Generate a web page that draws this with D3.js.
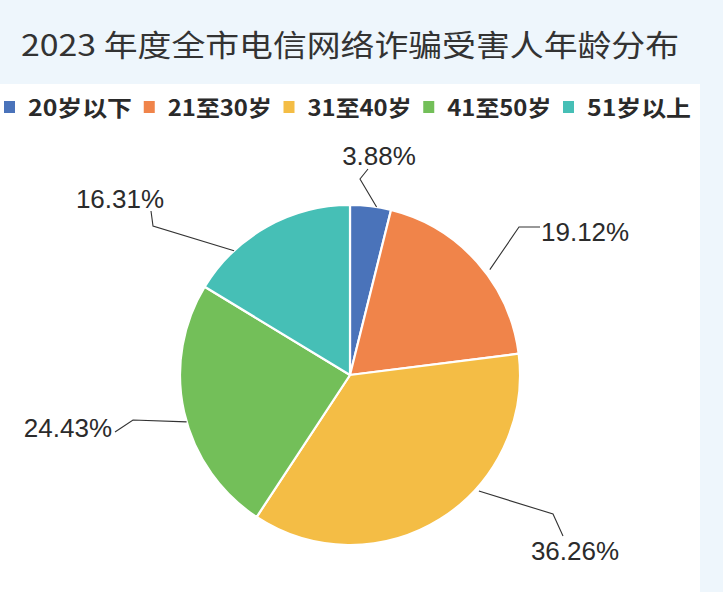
<!DOCTYPE html>
<html>
<head>
<meta charset="utf-8">
<script src="https://cdn.jsdelivr.net/npm/d3@7"></script>
<style>
  html, body { margin: 0; padding: 0; background: #eef6fc; }
  svg { display: block; }
</style>
</head>
<body>
<svg id="chart" width="723" height="592"></svg>
<script>
// ---- data ----
const title = "2023 年度全市电信网络诈骗受害人年龄分布";
const categories = ["20岁以下", "21至30岁", "31至40岁", "41至50岁", "51岁以上"];
const values = [3.88, 19.12, 36.26, 24.43, 16.31];
const valueLabels = ["3.88%", "19.12%", "36.26%", "24.43%", "16.31%"];
const colors = ["#4a73ba", "#f0844a", "#f4bd45", "#73bf59", "#46bfb6"];

// ---- layout ----
const W = 723, H = 592;
const cx = 350, cy = 375, R = 170;
const svg = d3.select("#chart");

// background panel
svg.append("rect").attr("x", 0).attr("y", 0).attr("width", W).attr("height", H).attr("fill", "#eef6fc");
svg.append("rect").attr("x", 0).attr("y", 84).attr("width", 700).attr("height", H - 84).attr("fill", "#ffffff");

// title
const t = svg.append("text")
  .attr("x", 21).attr("y", 56)
  .attr("font-family", "'Noto Sans CJK SC', 'Noto Sans', sans-serif")
  .attr("font-size", 30)
  .attr("fill", "#333333")
  .text(title);
t.attr("textLength", 658).attr("lengthAdjust", "spacingAndGlyphs");

// legend
const legendX = d3.scaleLinear().domain([0, 4]).range([4, 563]);
const lg = svg.append("g");
categories.forEach((c, i) => {
  const g = lg.append("g").attr("transform", `translate(${legendX(i)},0)`);
  g.append("rect").attr("x", 0).attr("y", 101).attr("width", 11).attr("height", 12).attr("fill", colors[i]);
  g.append("text").attr("x", 24).attr("y", 116)
    .attr("font-family", "'Noto Sans CJK SC', sans-serif")
    .attr("font-weight", "bold")
    .attr("font-size", 22)
    .attr("fill", "#2a2a2a")
    .attr("textLength", 104).attr("lengthAdjust", "spacingAndGlyphs")
    .text(c);
});

// pie
const pie = d3.pie().sort(null).value(d => d)
  .startAngle(0).endAngle(2 * Math.PI);
const arcs = pie(values);
const arc = d3.arc().innerRadius(0).outerRadius(R);
const pg = svg.append("g").attr("transform", `translate(${cx},${cy})`);
pg.selectAll("path").data(arcs).join("path")
  .attr("d", arc)
  .attr("fill", (d, i) => colors[i])
  .attr("stroke", "#ffffff")
  .attr("stroke-width", 2.2)
  .attr("stroke-linejoin", "round");

// labels with leader lines (layout positions)
// anchor: angle (deg, clockwise from top) on pie edge; elbow / end / text absolute layout
const labelLayout = [
  { ang: 9,   rr: 1.0,  elbow: [360, 179], end: [368, 169], tx: 379, ty: 165, anchor: "middle" },
  { ang: 53,  rr: 1.03, elbow: [519, 227], end: [540, 227], tx: 541, ty: 241, anchor: "start" },
  { ang: 132, rr: 1.02, elbow: [553, 514], end: [563, 536], tx: 575, ty: 560, anchor: "middle" },
  { ang: 254, rr: 1.0,  elbow: [133, 420], end: [115, 432], tx: 112, ty: 437, anchor: "end" },
  { ang: 317, rr: 1.0,  elbow: [153, 226], end: [151, 211], tx: 120, ty: 208, anchor: "middle" }
];
const lineG = svg.append("g");
arcs.forEach((a, i) => {
  const L = labelLayout[i];
  const th = L.ang * Math.PI / 180;
  const sx = cx + R * L.rr * Math.sin(th);
  const sy = cy - R * L.rr * Math.cos(th);
  lineG.append("polyline")
    .attr("points", [[sx, sy], L.elbow, L.end].map(p => p.join(",")).join(" "))
    .attr("fill", "none")
    .attr("stroke", "#333333")
    .attr("stroke-width", 1.1);
  lineG.append("text")
    .attr("x", L.tx).attr("y", L.ty)
    .attr("text-anchor", L.anchor)
    .attr("font-family", "'Liberation Sans', Arial, sans-serif")
    .attr("font-size", 26)
    .attr("fill", "#2b2b2b")
    .text(valueLabels[i]);
});
</script>
</body>
</html>
